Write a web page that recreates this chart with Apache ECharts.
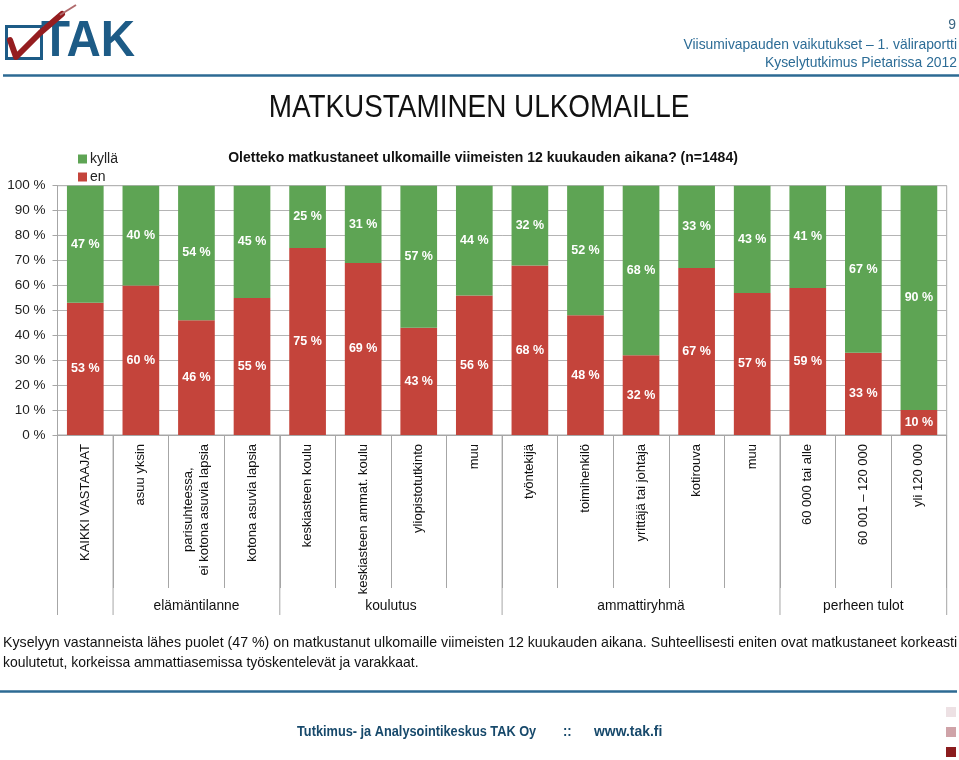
<!DOCTYPE html>
<html><head><meta charset="utf-8">
<script src="https://cdn.jsdelivr.net/npm/echarts@6/dist/echarts.min.js"></script>
<style>html,body{margin:0;padding:0;background:#fff}#c{width:959px;height:760px}</style>
</head><body><div id="c"></div>
<script>
const categories = ['KAIKKI VASTAAJAT','asuu yksin','parisuhteessa,\nei kotona asuvia lapsia','kotona asuvia lapsia','keskiasteen koulu','keskiasteen ammat. koulu','yliopistotutkinto','muu','työntekijä','toimihenkilö','yrittäjä tai johtaja','kotirouva','muu','60 000 tai alle','60 001 – 120 000','yli 120 000'];
const enValues    = [53,60,46,55,75,69,43,56,68,48,32,67,57,59,33,10];
const kyllaValues = [47,40,54,45,25,31,57,44,32,52,68,33,43,41,67,90];
const groupNames  = ['','elämäntilanne','koulutus','ammattiryhmä','perheen tulot'];
const groupStarts = [0,1,4,8,13];
const groupEnd    = 16;

const F = '"Liberation Sans",Arial,sans-serif';
const GREEN = '#5ea454', RED = '#c4443b', BLUE = '#2d6a93';

const chart = echarts.init(document.getElementById('c'), null, {renderer:'canvas'});
const option = {
  animation:false,
  backgroundColor:'#fff',
  textStyle:{fontFamily:F},
  grid:{left:57.5, right:12.3, top:185.7, bottom:325, show:true, borderColor:'#a9a9a9', borderWidth:1},
  legend:{data:['kyllä','en'], orient:'vertical', left:73, top:147, icon:'rect', itemWidth:9, itemHeight:9, itemGap:4,
    textStyle:{fontFamily:F, fontSize:14, color:'#222', padding:[0,0,0,-2]}},
  xAxis:{type:'category', data:categories,
    axisLine:{lineStyle:{color:'#a6a6a6'}},
    axisTick:{show:true, interval:0, length:153, lineStyle:{color:'#a6a6a6'}},
    axisLabel:{interval:0, rotate:90, margin:9, fontFamily:F, fontSize:13, color:'#111',
      formatter:function(v){return v.split('\n').map(s=>'{c|'+s+'}').join('\n');},
      rich:{c:{align:'center', fontFamily:F, fontSize:13, color:'#111', lineHeight:16}}}},
  yAxis:{type:'value', min:0, max:100, interval:10,
    axisLine:{show:true, lineStyle:{color:'#a6a6a6'}},
    axisTick:{show:true, length:5, lineStyle:{color:'#a6a6a6'}},
    splitLine:{lineStyle:{color:'#b4b4b4'}},
    axisLabel:{formatter:'{value} %', fontFamily:F, fontSize:13.5, color:'#222', margin:12}},
  series:[
    {name:'en', type:'bar', stack:'s', data:enValues, barWidth:'66%', itemStyle:{color:RED},
      label:{show:true, position:'inside', formatter:'{c} %', color:'#fff', fontWeight:'bold', fontFamily:F, fontSize:12.5}},
    {name:'kyllä', type:'bar', stack:'s', data:kyllaValues, barWidth:'66%', itemStyle:{color:GREEN},
      label:{show:true, position:'inside', formatter:'{c} %', color:'#fff', fontWeight:'bold', fontFamily:F, fontSize:12.5}}
  ]
};
chart.setOption(option);

const c0 = chart.convertToPixel({xAxisIndex:0}, 0);
const c1 = chart.convertToPixel({xAxisIndex:0}, 1);
const band = c1 - c0;
const bx = i => c0 - band/2 + i*band;
const y0 = chart.convertToPixel({yAxisIndex:0}, 0);

function T(text, x, y, font, fill, align, sx){
  return {type:'text', x:x, y:y, scaleX:sx||1, style:{text:text, font:font, fill:fill, textAlign:align||'left', textVerticalAlign:'middle'}};
}
const g = [];
const bounds = groupStarts.concat([groupEnd]);
bounds.forEach(i => g.push({type:'line', shape:{x1:bx(i), y1:y0, x2:bx(i), y2:y0+180}, style:{stroke:'#a6a6a6', lineWidth:1}}));
groupNames.forEach((n,k) => {
  if(!n) return;
  const s = groupStarts[k], e = (k+1<groupStarts.length)?groupStarts[k+1]:groupEnd;
  const cx = (bx(s)+bx(e))/2;
  g.push(T(n, cx, y0+171, '15px '+F, '#111', 'center', 0.92));
});
// header
g.push({type:'rect', shape:{x:6.5, y:26.5, width:35, height:32}, style:{fill:'none', stroke:'#1d5b86', lineWidth:3}});
g.push({type:'text', x:41, y:42, scaleX:0.95, style:{text:'TAK', font:'bold 50px '+F, fill:'#1d5b86', textVerticalAlign:'middle'}});
g.push({type:'polyline', shape:{points:[[10,40],[16,57],[40,33],[62,14]]}, style:{stroke:'#951d20', lineWidth:6, fill:'none', lineJoin:'round', lineCap:'round'}});
g.push({type:'line', shape:{x1:60, y1:15, x2:76, y2:5}, style:{stroke:'#b06a6c', lineWidth:2}});
g.push({type:'line', shape:{x1:3, y1:75.5, x2:959, y2:75.5}, style:{stroke:BLUE, lineWidth:2.5}});
g.push(T('9', 956, 25, '15px '+F, '#3a6582', 'right', 0.93));
g.push(T('Viisumivapauden vaikutukset – 1. väliraportti', 957, 45, '15px '+F, '#2c6c96', 'right', 0.925));
g.push(T('Kyselytutkimus Pietarissa 2012', 957, 63, '15px '+F, '#2c6c96', 'right', 0.925));
g.push(T('MATKUSTAMINEN ULKOMAILLE', 479, 108, '31px '+F, '#111', 'center', 0.9));
g.push(T('Oletteko matkustaneet ulkomaille viimeisten 12 kuukauden aikana? (n=1484)', 483, 158, 'bold 15.5px '+F, '#111', 'center', 0.904));
g.push(T('Kyselyyn vastanneista lähes puolet (47 %) on matkustanut ulkomaille viimeisten 12 kuukauden aikana. Suhteellisesti eniten ovat matkustaneet korkeasti', 3, 643, '15px '+F, '#111', 'left', 0.945));
g.push(T('koulutetut, korkeissa ammattiasemissa työskentelevät ja varakkaat.', 3, 663, '15px '+F, '#111', 'left', 0.93));
g.push({type:'line', shape:{x1:0, y1:691.5, x2:957, y2:691.5}, style:{stroke:BLUE, lineWidth:2.5}});
g.push(T('Tutkimus- ja Analysointikeskus TAK Oy', 297, 732, 'bold 14.5px '+F, '#17496b', 'left', 0.88));
g.push(T('::', 563, 732, 'bold 14.5px '+F, '#17496b', 'left', 0.9));
g.push(T('www.tak.fi', 594, 732, 'bold 14.5px '+F, '#17496b', 'left', 0.96));
g.push({type:'rect', shape:{x:946, y:707, width:10, height:10}, style:{fill:'#ede1e4'}});
g.push({type:'rect', shape:{x:946, y:727, width:10, height:10}, style:{fill:'#cfa3a8'}});
g.push({type:'rect', shape:{x:946, y:747, width:10, height:10}, style:{fill:'#8b1c1e'}});
chart.setOption({graphic:{elements:g}});
</script></body></html>
